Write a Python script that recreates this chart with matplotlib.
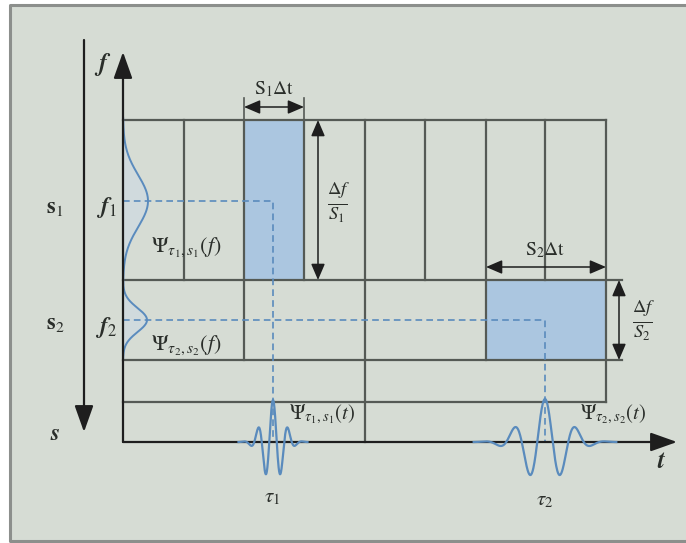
"""
time-frequency tiling sketch for the continuous wavelet transform
two scales s1 (narrow in time) and s2 (wide in time), with the
spectral windows on the f axis and the wavelets on the t axis
"""

import numpy as np
import matplotlib.pyplot as plt
from matplotlib.patches import Rectangle

plt.rcParams['mathtext.fontset'] = 'stix'
plt.rcParams['font.family'] = 'STIXGeneral'

# layout of the tiling (drawing units = pixels of the reference)
row_edges = [120, 280, 360, 402, 442]          # f bands, top to bottom
row1_cols = [184, 244, 304, 365, 425, 486, 545]  # scale s1 tiles
row2_cols = [244, 365, 486]                      # scale s2 tiles
x_left, x_right = 123, 606

# highlighted atoms (x0, y0, x1, y1)
atom1 = (244, 120, 304, 280)
atom2 = (486, 280, 606, 360)

# centres of the two atoms
tau = [273, 545]
freq = [201, 320]

# wavelet shapes: period, amplitude
wav_period = [15, 31]
wav_amp = [42, 43]
# spectral windows: peak height, width
spec_amp = [25, 24]
spec_width = [26, 12]

grid_col = '#555a55'
blue_fill = '#abc6e0'
blue_line = '#5a8bbd'
txt_col = '#2a2e2a'

fig = plt.figure(figsize=(6.86, 5.43), dpi=100)
ax = fig.add_axes([0, 0, 1, 1])
ax.set_xlim(0, 686)
ax.set_ylim(543, 0)
ax.axis('off')

# panel background and frame (open on the right)
ax.add_patch(Rectangle((10, 5), 680, 536, facecolor='#d6dcd4',
                       edgecolor='none', zorder=0))
ax.plot([686, 10, 10, 686], [5, 5, 541, 541], color='#8c8f8c', lw=2.2, zorder=0)

# blue atoms
for (x0, y0, x1, y1) in [atom1, atom2]:
    ax.add_patch(Rectangle((x0, y0), x1 - x0, y1 - y0, facecolor=blue_fill,
                           edgecolor='none', zorder=1))

# spectral windows on the f axis
for fc, a, w in zip(freq, spec_amp, spec_width):
    yy = np.linspace(fc - 3.2 * w, fc + 3.2 * w, 200)
    xx = x_left + a * np.exp(-0.5 * ((yy - fc) / w) ** 2)
    ax.fill_betweenx(yy, x_left, xx, color='#cddae4', alpha=0.6, zorder=1)
    ax.plot(xx, yy, color=blue_line, lw=1.4, zorder=3)

# grid lines
lw = 1.6
ax.plot([x_left, x_right], [row_edges[0]] * 2, color=grid_col, lw=lw, zorder=2)
ax.plot([x_left, 622], [row_edges[1]] * 2, color=grid_col, lw=lw, zorder=2)
ax.plot([x_left, 622], [row_edges[2]] * 2, color=grid_col, lw=lw, zorder=2)
ax.plot([x_left, x_right], [row_edges[3]] * 2, color=grid_col, lw=lw, zorder=2)
for x in row1_cols:
    ax.plot([x, x], [row_edges[0], row_edges[1]], color=grid_col, lw=lw, zorder=2)
for x in row2_cols:
    ax.plot([x, x], [row_edges[1], row_edges[2]], color=grid_col, lw=lw, zorder=2)
ax.plot([365, 365], [row_edges[2], row_edges[4]], color=grid_col, lw=lw, zorder=2)
ax.plot([x_right, x_right], [row_edges[0], row_edges[3]], color=grid_col, lw=lw, zorder=2)
# extension lines above the first atom
ax.plot([244, 244], [98, 120], color=grid_col, lw=1.2, zorder=2)
ax.plot([304, 304], [98, 120], color=grid_col, lw=1.2, zorder=2)

# axes with filled heads
head = dict(arrowstyle='-|>,head_length=0.9,head_width=0.32', color='#1e1e1e',
            lw=1.6, shrinkA=0, shrinkB=0, mutation_scale=18)
ax.annotate('', xy=(123, 52), xytext=(123, 442), arrowprops=head, zorder=4)
ax.annotate('', xy=(677, 442), xytext=(123, 442), arrowprops=head, zorder=4)
ax.annotate('', xy=(84, 432), xytext=(84, 40), arrowprops=head, zorder=4)

# dashed guides from (f, tau) of each atom
for t0, f0 in zip(tau, freq):
    ax.plot([x_left, t0, t0], [f0, f0, 442], color=blue_line, lw=1.2,
            ls=(0, (4, 2.5)), zorder=3)

# wavelets on the t axis
for t0, p, a in zip(tau, wav_period, wav_amp):
    xx = np.linspace(t0 - 2.3 * p, t0 + 2.3 * p, 400)
    env = np.exp(-0.5 * ((xx - t0) / (0.67 * p)) ** 2)
    yy = 442 - a * np.cos(2 * np.pi * (xx - t0) / p) * env
    ax.plot(xx, yy, color=blue_line, lw=1.6, zorder=5)

# dimension arrows
dim = dict(arrowstyle='<|-|>,head_length=0.7,head_width=0.3', color='#1e1e1e',
           lw=1.1, shrinkA=0, shrinkB=0, mutation_scale=14)
ax.annotate('', xy=(244, 107), xytext=(304, 107), arrowprops=dim, zorder=4)
ax.annotate('', xy=(318, 120), xytext=(318, 280), arrowprops=dim, zorder=4)
ax.annotate('', xy=(486, 267), xytext=(606, 267), arrowprops=dim, zorder=4)
ax.annotate('', xy=(619, 280), xytext=(619, 360), arrowprops=dim, zorder=4)

# labels
def label(x, y, s, size=14, **kw):
    ax.text(x, y, s, fontsize=size, color=txt_col, ha='center', va='center',
            zorder=6, **kw)

label(103, 64, r'$\boldsymbol{f}$', 18)
label(662, 462, r'$\boldsymbol{t}$', 18)
label(55, 208, r'$\mathbf{s}_1$', 16)
label(55, 324, r'$\mathbf{s}_2$', 16)
label(55, 434, r'$\boldsymbol{s}$', 17)
label(106, 208, r'$\boldsymbol{f}_1$', 17)
label(106, 327, r'$\boldsymbol{f}_2$', 17)
label(274, 89, r'$\mathrm{S}_1\Delta\mathrm{t}$', 14)
label(545, 250, r'$\mathrm{S}_2\Delta\mathrm{t}$', 14)
label(339, 203, r'$\frac{\Delta f}{S_1}$', 19)
label(644, 321, r'$\frac{\Delta f}{S_2}$', 19)
label(186, 247, r'$\Psi_{\tau_1,s_1}(f)$', 16)
label(186, 345, r'$\Psi_{\tau_2,s_2}(f)$', 16)
label(322, 414, r'$\Psi_{\tau_1,s_1}(t)$', 15)
label(613, 414, r'$\Psi_{\tau_2,s_2}(t)$', 15)
label(272, 497, r'$\tau_1$', 15)
label(545, 500, r'$\tau_2$', 15)

fig.savefig('out.png', dpi=100, facecolor='white')
